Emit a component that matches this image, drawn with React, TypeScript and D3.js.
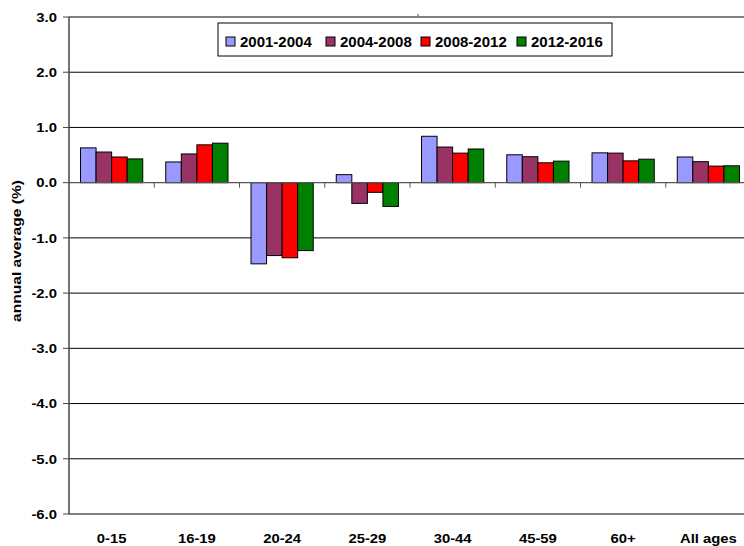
import React from "react";
import * as d3 from "d3";

const categories = ["0-15", "16-19", "20-24", "25-29", "30-44", "45-59", "60+", "All ages"];
const seriesNames = ["2001-2004", "2004-2008", "2008-2012", "2012-2016"];
const s2001_2004 = [0.63, 0.375, -1.47, 0.145, 0.84, 0.505, 0.54, 0.465];
const s2004_2008 = [0.555, 0.52, -1.32, -0.375, 0.645, 0.47, 0.535, 0.38];
const s2008_2012 = [0.465, 0.685, -1.36, -0.175, 0.535, 0.36, 0.395, 0.3];
const s2012_2016 = [0.43, 0.715, -1.23, -0.43, 0.61, 0.39, 0.425, 0.305];
const yTicks = [3, 2, 1, 0, -1, -2, -3, -4, -5, -6];
const colors = ["#9999FF", "#993366", "#FF0000", "#008000"];

const W = 744, H = 546;
const left = 69, right = 751, top = 17, bottom = 514;

export default function App() {
  const series = [s2001_2004, s2004_2008, s2008_2012, s2012_2016];
  const x = d3.scaleBand<string>().domain(categories).range([left, right]).paddingInner(0.27).paddingOuter(0.135);
  const x0 = d3.scaleBand<string>().domain(categories).range([left, right]);
  const x1 = d3.scaleBand<number>().domain([0, 1, 2, 3]).range([0, x.bandwidth()]);
  const y = d3.scaleLinear().domain([-6, 3]).range([bottom, top]);
  const font = "Arial, 'Liberation Sans', sans-serif";
  const legendX = [226, 326, 421, 517];
  return (
    <svg width={W} height={H} style={{ position: "absolute", left: 0, top: 0 }} fontFamily={font}>
      <rect width={W} height={H} fill="#fff" />
      {yTicks.filter((t) => t !== 0).map((t) => (
        <line key={t} x1={left} x2={W} y1={y(t)} y2={y(t)} stroke="#000" strokeWidth={1} />
      ))}
      {categories.map((c, i) =>
        series.map((s, j) => {
          const v = s[i];
          const bx = (x(c) as number) + (x1(j) as number);
          return (
            <rect key={c + j} x={bx} width={x1.bandwidth()} y={Math.min(y(v), y(0))} height={Math.abs(y(v) - y(0))}
              fill={colors[j]} stroke="#000" strokeWidth={1} />
          );
        })
      )}
      <line x1={left} x2={W} y1={y(0)} y2={y(0)} stroke="#555" strokeWidth={1.2} />
      {categories.slice(1).map((c) => (
        <line key={c} x1={x0(c)} x2={x0(c)} y1={y(0)} y2={y(0) + 5} stroke="#555" />
      ))}
      <line x1={left} x2={left} y1={top} y2={bottom} stroke="#444" strokeWidth={1.5} />
      {yTicks.map((t) => (
        <g key={t}>
          <line x1={left - 6} x2={left} y1={y(t)} y2={y(t)} stroke="#444" />
          <text transform={`translate(57,${y(t)}) scale(1.1,1)`} dy="0.35em" textAnchor="end" fontSize={13.5} fontWeight="bold">{t.toFixed(1)}</text>
        </g>
      ))}
      {categories.map((c) => (
        <text key={c} transform={`translate(${(x0(c) as number) + x0.bandwidth() / 2},542.5) scale(1.1,1)`} textAnchor="middle" fontSize={13.5} fontWeight="bold">{c}</text>
      ))}
      <text transform={`translate(21,251) rotate(-90)`} textAnchor="middle" fontSize={12.5} fontWeight="bold" textLength={142} lengthAdjust="spacingAndGlyphs">annual average (%)</text>
      <rect x={218} y={23} width={394} height={33} fill="#fff" stroke="#000" strokeWidth={1} />
      {seriesNames.map((n, j) => (
        <g key={n}>
          <rect x={legendX[j]} y={37} width={9} height={9} fill={colors[j]} stroke="#000" />
          <text x={legendX[j] + 14} y={47.3} fontSize={15} fontWeight="bold">{n}</text>
        </g>
      ))}
      <circle cx={418} cy={15} r={0.7} fill="#000" />
    </svg>
  );
}
